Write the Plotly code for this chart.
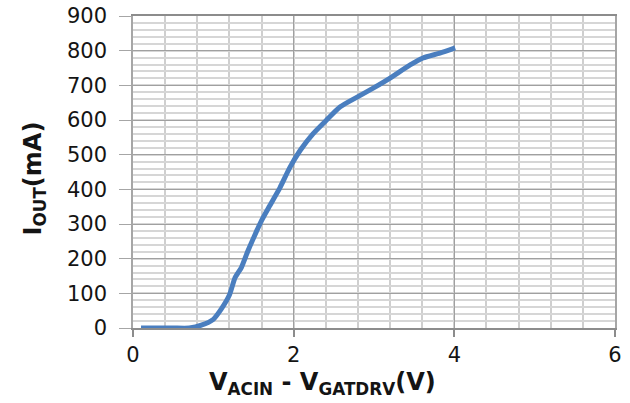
import plotly.graph_objects as go

v_diff = [0.1, 0.3, 0.5, 0.7, 0.85, 1.0, 1.1, 1.2, 1.27, 1.35, 1.43, 1.52, 1.6, 1.7,
          1.83, 1.95, 2.08, 2.24, 2.41, 2.58, 2.79, 2.99, 3.2, 3.45, 3.61, 3.82, 4.01]
i_out = [0, 0, 0, 0, 8, 25, 55, 95, 145, 175, 222, 270, 310, 352,
         405, 462, 512, 560, 600, 638, 666, 692, 721, 759, 779, 793, 808]

x_ticks = [0, 2, 4, 6]
y_ticks = [0, 100, 200, 300, 400, 500, 600, 700, 800, 900]

FONT = "DejaVu Sans"
TXT = "#141414"

fig = go.Figure()
fig.add_trace(go.Scatter(
    x=v_diff, y=i_out, mode="lines",
    line=dict(color="#4a7ebf", width=5, shape="spline", smoothing=0.6),
    showlegend=False, hoverinfo="skip",
))

fig.update_layout(
    width=630, height=403,
    margin=dict(l=133, r=15, t=16, b=75),
    paper_bgcolor="white", plot_bgcolor="white",
    font=dict(family=FONT, size=21, color=TXT),
    xaxis=dict(
        range=[0, 6], tickvals=x_ticks, ticktext=[str(t) for t in x_ticks],
        showgrid=True, gridcolor="#a0a0a0", gridwidth=1.3,
        minor=dict(dtick=0.4, showgrid=True, gridcolor="#cfcfcf", gridwidth=2),
        showline=True, linecolor="#8c8c8c", linewidth=1.5, mirror=True,
        ticks="outside", ticklen=7, tickcolor="#8c8c8c", tickwidth=1.5,
        zeroline=False, automargin=False,
        tickfont=dict(family=FONT, size=21, color=TXT),
    ),
    yaxis=dict(
        range=[0, 900], tickvals=y_ticks, ticktext=[str(t) for t in y_ticks],
        showgrid=True, gridcolor="#a0a0a0", gridwidth=1.3,
        minor=dict(dtick=20, showgrid=True, gridcolor="#d6d6d6", gridwidth=1.5),
        showline=True, linecolor="#a6a6a6", linewidth=1.5, mirror=True,
        ticks="outside", ticklen=12, tickcolor="#a6a6a6", tickwidth=1.3,
        zeroline=False, automargin=False,
        ticklabelstandoff=8,
        tickfont=dict(family=FONT, size=21, color=TXT),
    ),
    annotations=[
        dict(
            text="<b>V<sub>ACIN</sub> - V<sub>GATDRV</sub>(V)</b>",
            xref="paper", yref="paper", x=0.394, y=-0.178,
            xanchor="center", yanchor="middle", showarrow=False,
            font=dict(family=FONT, size=24, color=TXT),
        ),
        dict(
            text="<b>I<sub>OUT</sub>(mA)</b>",
            xref="paper", yref="paper", x=-0.205, y=0.48,
            xanchor="center", yanchor="middle", showarrow=False, textangle=-90,
            font=dict(family=FONT, size=24, color=TXT),
        ),
    ],
)

fig.write_html("out.html")
